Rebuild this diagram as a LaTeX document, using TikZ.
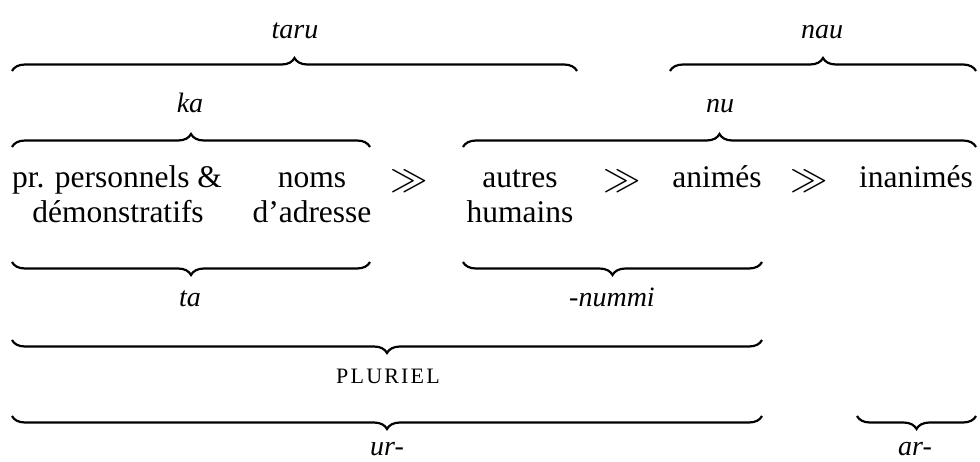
\documentclass[tikz,border=0pt]{standalone}
\usepackage{fontspec}
\setmainfont{Liberation Serif}
\usetikzlibrary{decorations.pathreplacing}
\tikzset{
  bracecurl/.style={decorate, decoration={brace, amplitude=13pt}, line width=2.2pt},
  rowtext/.style={anchor=base, inner sep=0pt, font=\fontsize{31.5}{38}\selectfont},
  ggsign/.style={anchor=center, inner sep=0pt, font=\fontsize{24}{28}\selectfont},
  lbl/.style={anchor=base, inner sep=0pt, font=\fontsize{28}{32}\selectfont\itshape},
}
\newcommand{\bigsign}{\scalebox{1.5}{$\gg$}}
\begin{document}
\begin{tikzpicture}[x=1pt, y=-1pt]
\useasboundingbox (0,0) rectangle (980,461);
% labels top
\node[lbl] (taru) at (295,38) {taru};
\node[lbl] (nau) at (822,38) {nau};
\node[lbl] (ka) at (190,112) {ka};
\node[lbl] (nu) at (720,112) {nu};
% text rows
\node[rowtext] (pp) at (117,187) {pr. personnels \&};
\node[rowtext] (noms) at (312,187) {noms};
\node[ggsign] (gg1) at (409,181) {\bigsign};
\node[rowtext] (autres) at (520,187) {autres};
\node[ggsign] (gg2) at (622,181) {\bigsign};
\node[rowtext] (animes) at (717,187) {animés};
\node[ggsign] (gg3) at (809,181) {\bigsign};
\node[rowtext] (inanimes) at (916,187) {inanimés};
\node[rowtext] (dem) at (118,222) {démonstratifs};
\node[rowtext] (adr) at (312,222) {d’adresse};
\node[rowtext] (hum) at (520,222) {humains};
% lower labels
\node[lbl] (ta) at (190,306) {ta};
\node[lbl] (nummi) at (612,306) {-nummi};
\node[anchor=base, inner sep=0pt, font=\fontsize{22}{26}\selectfont] (pl) at (388,383) {P\kern2.2pt L\kern2.2pt U\kern2.2pt R\kern2.2pt I\kern2.2pt E\kern2.2pt L};
\node[lbl] (ur) at (387,455) {ur-};
\node[lbl] (ar) at (915,455) {ar-};
% brace coordinates
\coordinate (taruL) at (12,71);  \coordinate (taruR) at (577,71);
\coordinate (nauL) at (670,71);  \coordinate (nauR) at (976,71);
\coordinate (kaL) at (12,147);   \coordinate (kaR) at (370,147);
\coordinate (nuL) at (463,147);  \coordinate (nuR) at (976,147);
\coordinate (taL) at (12,262);   \coordinate (taR) at (370,262);
\coordinate (nmL) at (463,262);  \coordinate (nmR) at (762,262);
\coordinate (plL) at (12,340);   \coordinate (plR) at (762,340);
\coordinate (urL) at (12,416);   \coordinate (urR) at (762,416);
\coordinate (arL) at (857,416);  \coordinate (arR) at (976,416);
% upward braces
\draw[bracecurl] (taruL) -- (taruR);
\draw[bracecurl] (nauL) -- (nauR);
\draw[bracecurl] (kaL) -- (kaR);
\draw[bracecurl] (nuL) -- (nuR);
% downward braces
\draw[bracecurl] (taR) -- (taL);
\draw[bracecurl] (nmR) -- (nmL);
\draw[bracecurl] (plR) -- (plL);
\draw[bracecurl] (urR) -- (urL);
\draw[bracecurl] (arR) -- (arL);
\end{tikzpicture}
\end{document}
